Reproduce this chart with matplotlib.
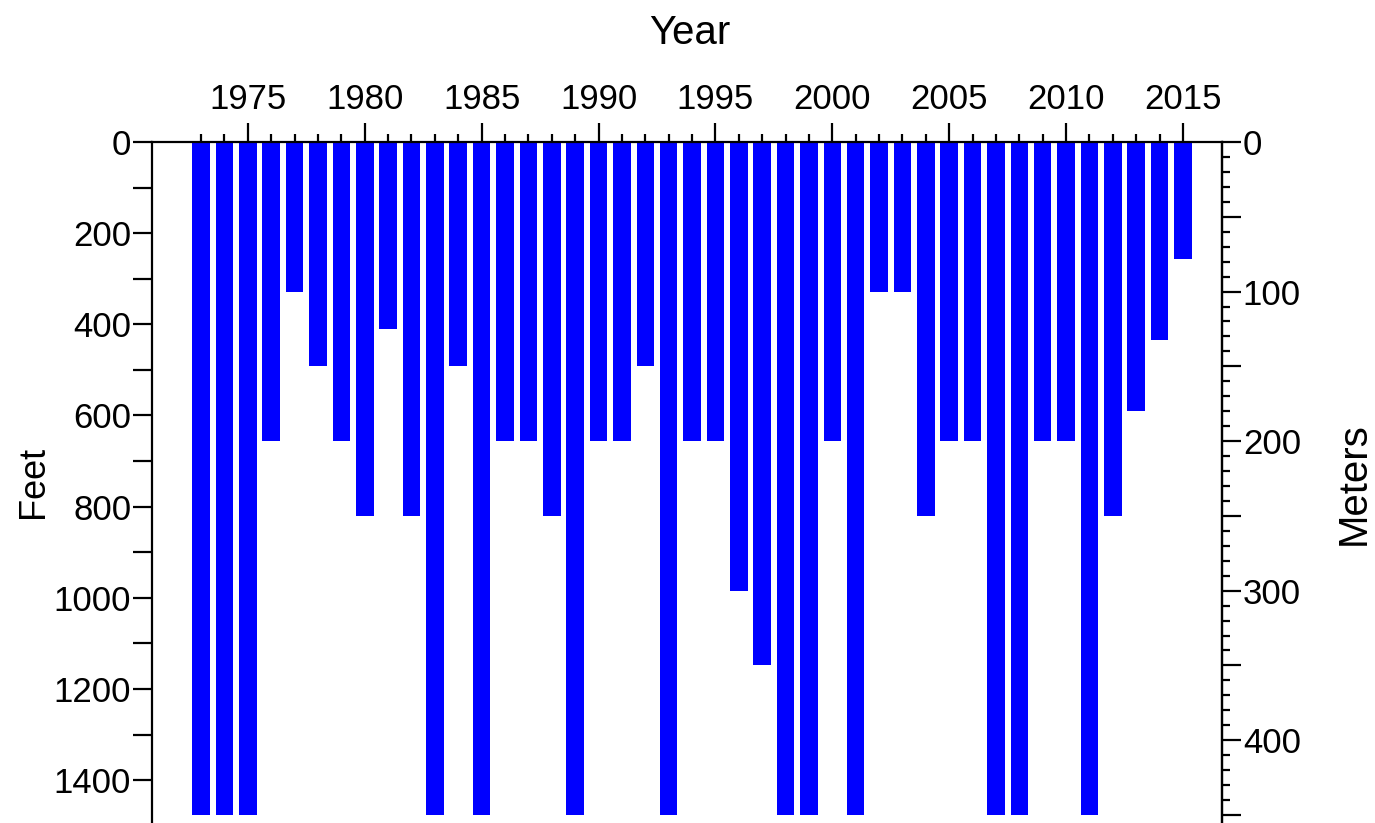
import matplotlib
matplotlib.use("Agg")
import matplotlib.pyplot as plt
from matplotlib.ticker import MultipleLocator, FixedLocator, FuncFormatter

plt.rcParams['font.family'] = ['Liberation Sans', 'DejaVu Sans']

years = list(range(1973, 2016))
depth_ft = [1476, 1476, 1476, 656, 328, 492, 656, 820, 410, 820,
            1476, 492, 1476, 656, 656, 820, 1476, 656, 656, 492,
            1476, 656, 656, 984, 1148, 1476, 1476, 656, 1476, 328,
            328, 820, 656, 656, 1476, 1476, 656, 656, 1476, 820,
            590, 435, 257]
x_major = [1975, 1980, 1985, 1990, 1995, 2000, 2005, 2010, 2015]
ft_labels = [0, 200, 400, 600, 800, 1000, 1200, 1400]
m_labels = [0, 100, 200, 300, 400]

FT2M = 0.3048
ymax_ft = 1494

fig = plt.figure(figsize=(13.75, 8.23), dpi=100)
ax = fig.add_axes([152/1375, 0.0, (1222-152)/1375, 1 - 142/823])

ax.bar(years, depth_ft, width=0.75, color='#0000FF', bottom=0, align='center')
ax.set_xlim(1970.9, 2016.67)
ax.set_ylim(ymax_ft, 0)

lw = 1.6
for s in ['top', 'left', 'right']:
    ax.spines[s].set_linewidth(lw)
ax.spines['bottom'].set_visible(False)

# top x axis
ax.xaxis.tick_top()
ax.xaxis.set_major_locator(FixedLocator(x_major))
ax.xaxis.set_minor_locator(FixedLocator(years))
ax.tick_params(axis='x', which='major', direction='out', length=14, width=lw,
               labelsize=25, pad=5)
ax.tick_params(axis='x', which='minor', direction='out', length=6, width=lw)
ax.tick_params(axis='x', bottom=False, labelbottom=False)

# left y axis (feet)
ax.yaxis.set_major_locator(MultipleLocator(100))
ax.yaxis.set_major_formatter(FuncFormatter(lambda v, p: f"{int(round(v))}" if int(round(v)) in ft_labels else ""))
ax.tick_params(axis='y', which='major', direction='out', length=14, width=lw,
               labelsize=25, pad=1, right=False)

# right y axis (meters)
ax2 = ax.twinx()
ax2.set_position(ax.get_position())
ax2.set_ylim(ymax_ft * FT2M, 0)
for s in ax2.spines.values():
    s.set_visible(False)
ax2.spines['right'].set_visible(True)
ax2.spines['right'].set_linewidth(lw)
ax2.yaxis.set_major_locator(MultipleLocator(50))
ax2.yaxis.set_minor_locator(MultipleLocator(10))
ax2.yaxis.set_major_formatter(FuncFormatter(lambda v, p: f"{int(round(v))}" if int(round(v)) in m_labels else ""))
ax2.tick_params(axis='y', which='major', direction='out', length=14, width=lw,
                labelsize=25, pad=1)
ax2.tick_params(axis='y', which='minor', direction='out', length=6, width=lw)

fig.text(690/1375, 1 - 33/823, 'Year', ha='center', va='center', fontsize=29)
fig.text(33/1375, 1 - 482/823, 'Feet', ha='center', va='center', fontsize=26, rotation=90)
fig.text(1354/1375, 1 - 484/823, 'Meters', ha='center', va='center', fontsize=29, rotation=90)

fig.savefig('out.png', dpi=100, facecolor='white')
